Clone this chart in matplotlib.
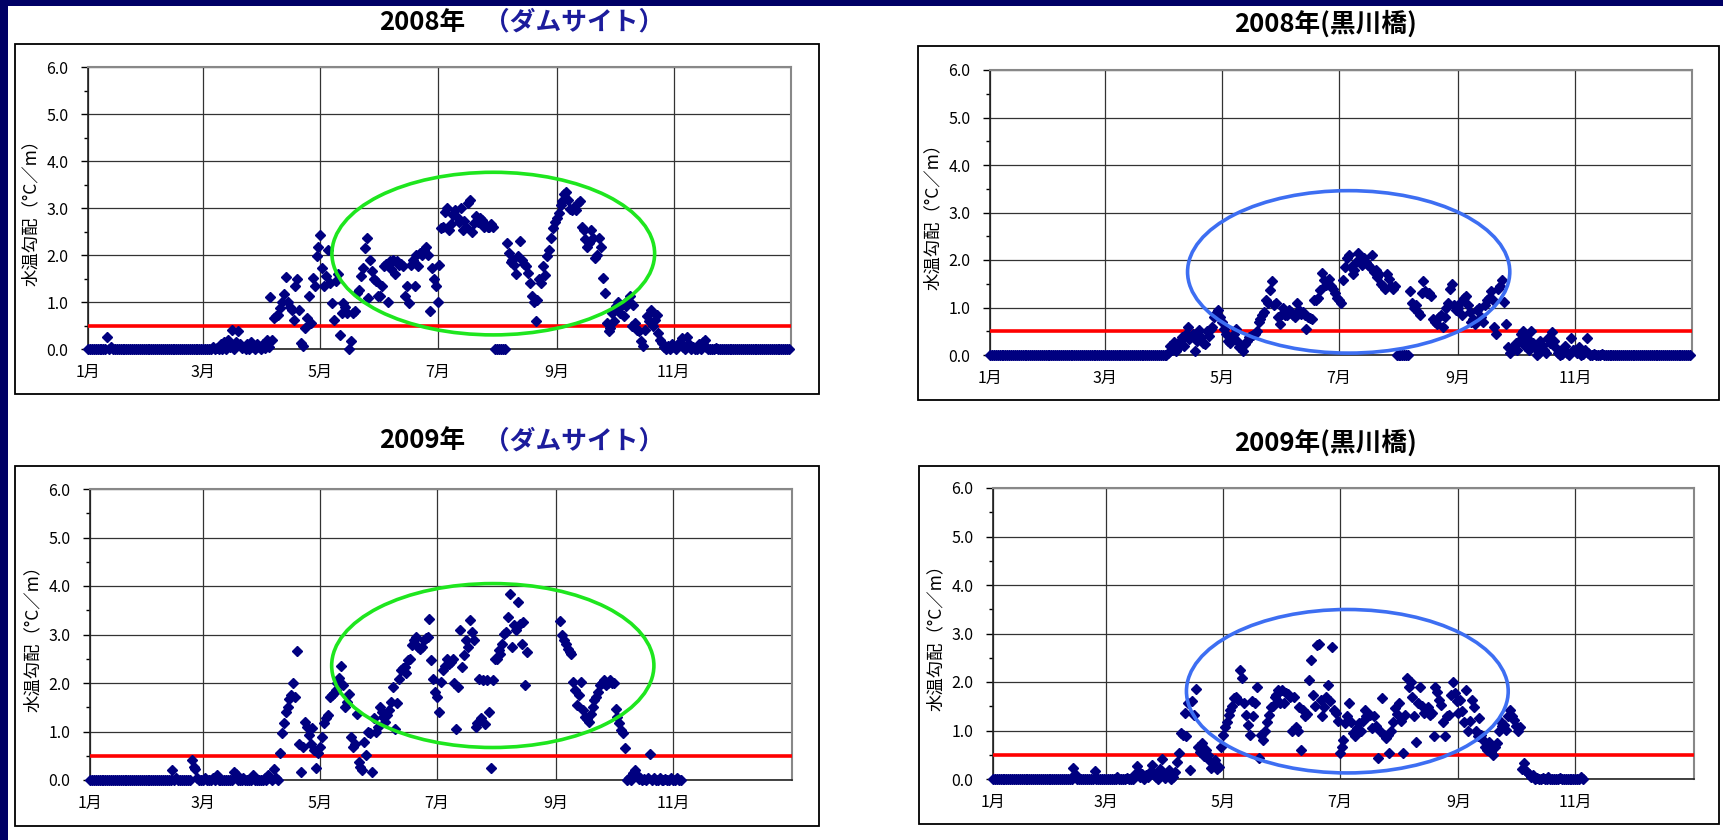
import numpy as np
import matplotlib
matplotlib.use("Agg")
import matplotlib.pyplot as plt
from matplotlib.patches import Ellipse, Rectangle

plt.rcParams['font.family'] = ['Liberation Sans Narrow', 'Noto Sans CJK JP', 'DejaVu Sans']

# ---- data: daily water temperature gradient (°C/m), one value per day ----
month_starts_2008 = [0, 31, 60, 91, 121, 152, 182, 213, 244, 274, 305, 335]
month_starts_2009 = [0, 31, 59, 90, 120, 151, 181, 212, 243, 273, 304, 334]
month_labels = ['1月', '3月', '5月', '7月', '9月', '11月']
y_labels = ['0.0', '1.0', '2.0', '3.0', '4.0', '5.0', '6.0']
threshold = 0.5

# 2008 dam site
dam_2008 = (
    [0, 0, 0, 0, 0, 0, 0, 0, 0, 0, 0.25, 0, 0.05, 0, 0, 0, 0, 0, 0, 0, 0, 0, 0, 0, 0, 0, 0, 0, 0, 0, 0]  # Jan
    + [0, 0, 0, 0, 0, 0, 0, 0, 0, 0, 0, 0, 0, 0, 0, 0, 0, 0, 0, 0, 0, 0, 0, 0, 0, 0, 0, 0, 0]  # Feb
    + [0, 0, 0, 0, 0, 0.05, 0, 0.03, 0, 0.1, 0, 0.15, 0, 0.2, 0.05, 0.41, 0, 0.15, 0.38, 0.1,
       0.02, 0.05, 0, 0.1, 0, 0.15, 0.05, 0, 0.1, 0.05, 0]  # Mar
    + [0.1, 0.02, 0.2, 0.05, 1.1, 0.2, 0.66, 0.7, 0.73, 0.87, 1.0, 1.18, 1.53, 1.0, 0.9, 0.84, 0.62, 1.33, 1.49, 0.84,
       0.13, 0.06, 0.45, 0.66, 1.12, 0.55, 1.52, 1.33, 1.97, 2.18]  # Apr
    + [2.43, 1.72, 1.33, 1.55, 2.11, 1.4, 0.98, 0.62, 1.45, 1.6, 0.3, 0.77, 0.98, 0.9, 0.77, 0.0, 0.16, 0.77, 0.8, 1.19,
       1.25, 1.55, 1.72, 2.15, 2.36, 1.09, 1.9, 1.65, 1.5, 1.45, 1.12]  # May
    + [1.12, 1.33, 1.76, 1.8, 1.0, 1.87, 1.7, 1.9, 1.6, 1.87, 1.79, 1.8, 1.76, 1.12, 1.33, 0.98, 1.79, 1.9, 1.33, 2.0,
       1.76, 2.05, 2.0, 2.11, 2.18, 2.0, 0.8, 1.72, 1.49, 1.33]  # Jun
    + [1.0, 1.79, 2.57, 2.6, 2.92, 2.99, 2.54, 2.65, 2.86, 2.96, 2.8, 2.7, 3.0, 2.54, 2.72, 2.6, 3.11, 3.18, 2.5, 2.68,
       2.82, 2.7, 2.79, 2.75, 2.6, 2.64, 2.6, 2.6, 2.65, 2.6, 0]  # Jul
    + [0, 0, 0, 0, 0, 2.26, 2.04, 1.85, 1.9, 1.79, 1.6, 1.97, 2.29, 1.9, 1.8, 1.76, 1.62, 1.4, 1.12, 1.0,
       0.59, 1.05, 1.48, 1.4, 1.76, 1.58, 1.97, 2.11, 2.36, 2.57, 2.71]  # Aug
    + [2.78, 2.9, 3.07, 3.14, 3.3, 3.35, 3.16, 2.98, 2.96, 3.03, 2.95, 3.1, 3.14, 2.6, 2.54, 2.33, 2.18, 2.25, 2.54, 2.36,
       1.94, 2.0, 2.36, 2.18, 1.51, 1.2, 0.55, 0.38, 0.45, 0.77]  # Sep
    + [0.6, 0.91, 1.0, 0.77, 0.94, 0.7, 0.91, 1.05, 1.12, 0.5, 0.94, 0.55, 0.4, 0.38, 0.16, 0.06, 0.41, 0.7, 0.6, 0.84,
       0.5, 0.62, 0.73, 0.34, 0.2, 0.13, 0.05, 0, 0.06, 0, 0.1]  # Oct
    + [0.05, 0, 0.1, 0.15, 0.23, 0.05, 0, 0.25, 0.1, 0, 0.05, 0, 0, 0.1, 0, 0.15, 0.2, 0.05, 0, 0,
       0, 0, 0.03, 0, 0, 0, 0, 0, 0, 0]  # Nov
    + [0, 0, 0, 0, 0, 0, 0, 0, 0, 0, 0, 0, 0, 0, 0, 0, 0, 0, 0, 0, 0, 0, 0, 0, 0, 0, 0, 0, 0, 0, 0]  # Dec
)

# 2008 Kurokawa bridge
bridge_2008 = (
    [0, 0, 0, 0, 0, 0, 0, 0, 0, 0, 0, 0, 0, 0, 0, 0, 0, 0, 0, 0, 0, 0, 0, 0, 0, 0, 0, 0, 0, 0, 0]  # Jan
    + [0, 0, 0, 0, 0, 0, 0, 0, 0, 0, 0, 0, 0, 0, 0, 0, 0, 0, 0, 0, 0, 0, 0, 0, 0, 0, 0, 0, 0]  # Feb
    + [0, 0, 0, 0, 0, 0, 0, 0, 0, 0, 0, 0, 0, 0, 0, 0, 0, 0, 0, 0, 0, 0, 0, 0, 0, 0, 0, 0, 0, 0, 0]  # Mar
    + [0, 0, 0.05, 0.2, 0.1, 0.27, 0.09, 0.15, 0.3, 0.38, 0.2, 0.45, 0.59, 0.34, 0.4, 0.45, 0.09, 0.3, 0.52, 0.38,
       0.25, 0.23, 0.5, 0.4, 0.55, 0.6, 0.8, 0.88, 0.94, 0.8]  # Apr
    + [0.7, 0.55, 0.45, 0.3, 0.25, 0.38, 0.45, 0.55, 0.3, 0.16, 0.2, 0.09, 0.23, 0.3, 0.38, 0.4, 0.42, 0.45, 0.5, 0.7,
       0.75, 0.84, 0.9, 1.16, 1.1, 1.37, 1.55, 1.05, 1.09, 0.8, 0.65]  # May
    + [0.87, 0.98, 0.85, 0.84, 0.95, 0.9, 0.85, 0.8, 1.09, 0.95, 0.87, 0.9, 0.84, 0.55, 0.8, 0.78, 0.75, 1.15, 1.16, 1.2,
       1.37, 1.72, 1.58, 1.48, 1.5, 1.6, 1.45, 1.4, 1.3, 1.2]  # Jun
    + [1.16, 1.1, 1.58, 1.85, 2.05, 2.11, 1.85, 1.7, 1.8, 1.95, 2.15, 2.0, 1.9, 2.05, 1.95, 1.9, 1.85, 2.1, 1.75, 1.8,
       1.65, 1.7, 1.5, 1.45, 1.4, 1.7, 1.6, 1.45, 1.4, 1.45, 0]  # Jul
    + [0, 0, 0, 0, 0, 0, 1.35, 1.1, 1.0, 1.05, 0.9, 0.85, 1.3, 1.55, 1.35, 1.3, 1.3, 1.25, 0.75, 0.7,
       0.65, 0.8, 0.85, 0.6, 0.8, 1.0, 1.1, 1.4, 1.5, 1.05, 0.95]  # Aug
    + [1.0, 1.1, 0.85, 1.2, 1.25, 1.05, 0.9, 0.7, 0.75, 0.65, 0.95, 1.0, 0.8, 0.7, 1.05, 1.15, 1.2, 1.35, 1.15, 0.6,
       0.45, 1.4, 1.45, 1.58, 1.12, 0.65, 0.17, 0.05, 0.1, 0.2]  # Sep
    + [0.25, 0.1, 0.3, 0.45, 0.5, 0.2, 0.35, 0.1, 0.5, 0.25, 0.15, 0, 0.05, 0.3, 0.2, 0.1, 0.05, 0.35, 0.25, 0.48,
       0.3, 0.15, 0.05, 0, 0.02, 0.1, 0.2, 0.05, 0, 0.35, 0.1]  # Oct
    + [0.1, 0.05, 0.17, 0, 0.02, 0.1, 0.35, 0.05, 0, 0, 0.03, 0, 0, 0, 0.02, 0, 0, 0, 0, 0,
       0, 0, 0, 0, 0, 0, 0, 0, 0, 0]  # Nov
    + [0, 0, 0, 0, 0, 0, 0, 0, 0, 0, 0, 0, 0, 0, 0, 0, 0, 0, 0, 0, 0, 0, 0, 0, 0, 0, 0, 0, 0, 0, 0]  # Dec
)

# 2009 dam site (no record mid-Aug, record ends early Nov)
dam_2009 = (
    [0, 0, 0, 0, 0, 0, 0, 0, 0, 0, 0, 0, 0, 0, 0, 0, 0, 0, 0, 0, 0, 0, 0, 0, 0, 0, 0, 0, 0, 0, 0]  # Jan
    + [0, 0, 0, 0, 0, 0, 0, 0, 0, 0, 0, 0, 0.21, 0, 0.05, 0, 0, 0, 0, 0, 0, 0, 0.41, 0.27, 0.23, 0.05, 0, 0]  # Feb
    + [0, 0.05, 0, 0, 0, 0.05, 0, 0.1, 0, 0, 0, 0, 0, 0, 0, 0, 0.17, 0.12, 0, 0,
       0, 0.05, 0, 0, 0, 0, 0.1, 0, 0, 0, 0]  # Mar
    + [0, 0.05, 0, 0.1, 0.05, 0, 0.22, 0.05, 0, 0.56, 0.96, 1.17, 1.41, 1.5, 1.68, 1.75, 2.0, 1.72, 2.66, 0.75,
       0.17, 0.69, 1.2, 1.1, 0.93, 0.75, 1.08, 0.62, 0.24, 0.55]  # Apr
    + [0.69, 0.89, 1.17, 1.27, 1.34, 1.72, 1.75, 1.8, 1.85, 1.99, 2.1, 2.35, 1.96, 1.51, 1.6, 1.78, 0.89, 0.69, 0.75, 1.36,
       0.38, 0.27, 0.2, 0.79, 0.51, 1.0, 0.96, 0.17, 1.27, 1.0, 1.1]  # May
    + [1.51, 1.41, 1.3, 1.2, 1.35, 1.45, 1.6, 1.92, 1.06, 1.58, 2.09, 2.26, 2.3, 2.33, 2.2, 2.47, 2.5, 2.78, 2.88, 2.95,
       2.75, 2.71, 2.74, 2.88, 2.92, 2.95, 3.31, 2.47, 2.09, 1.82]  # Jun
    + [1.72, 1.41, 2.02, 2.26, 2.35, 2.5, 2.4, 2.44, 2.5, 1.99, 1.06, 1.92, 3.09, 2.33, 2.57, 2.88, 2.74, 3.29, 3.05, 2.88,
       1.1, 1.17, 2.09, 1.27, 2.06, 1.15, 2.06, 1.41, 0.24, 2.06, 2.5]  # Jul
    + [2.5, 2.68, 2.6, 2.81, 3.02, 3.05, 3.36, 3.84, 2.75, 3.19, 3.1, 3.67, 3.22, 2.81, 3.26, 1.96, 2.64,
       None, None, None, None, None, None, None, None, None, None, None, None, None, None]  # Aug
    + [None, None, 3.27, 3.0, 2.88, 2.81, 2.7, 2.64, 2.6, 2.02, 1.85, 1.54, 1.75, 2.02, 1.44, 1.3, 1.25, 1.2, 1.37, 1.51,
       1.65, 1.72, 1.82, 1.96, 2.0, 2.06, 1.95, 1.99, 2.06, 2.0]  # Sep
    + [1.99, 1.47, 1.3, 1.17, 1.03, 0.96, 0.65, 0, 0.05, 0, 0.14, 0.2, 0.1, 0.02, 0.05, 0, 0.03, 0, 0.05, 0.53,
       0, 0.05, 0, 0, 0.05, 0, 0, 0.03, 0, 0, 0.05]  # Oct
    + [0, 0, 0.05, 0, 0]  # Nov
)

# 2009 Kurokawa bridge (record ends early Nov)
bridge_2009 = (
    [0, 0, 0, 0, 0, 0, 0, 0, 0, 0, 0, 0, 0, 0, 0, 0, 0, 0, 0, 0, 0, 0, 0, 0, 0, 0, 0, 0, 0, 0, 0]  # Jan
    + [0, 0, 0, 0, 0, 0, 0, 0, 0, 0, 0, 0.23, 0.1, 0, 0, 0, 0, 0, 0, 0, 0, 0, 0.16, 0, 0, 0, 0, 0]  # Feb
    + [0, 0, 0, 0, 0, 0, 0.05, 0, 0, 0, 0, 0.03, 0, 0, 0, 0.1, 0.27, 0.15, 0.05, 0.1,
       0, 0.08, 0.05, 0.15, 0.29, 0.1, 0.05, 0, 0.2, 0.41, 0.1]  # Mar
    + [0.02, 0.1, 0.19, 0, 0.05, 0.15, 0.36, 0.53, 0.95, 0.91, 1.36, 0.88, 1.56, 0.19, 1.6, 1.32, 1.85, 0.67, 0.55, 0.74,
       0.47, 0.6, 0.5, 0.4, 0.23, 0.33, 0.4, 0.2, 0.25, 0.67]  # Apr
    + [0.91, 1.08, 1.18, 1.32, 1.42, 1.5, 1.66, 1.7, 1.62, 2.25, 2.08, 1.56, 1.32, 1.12, 0.91, 1.6, 1.29, 1.56, 1.9, 0.43,
       0.91, 0.81, 0.98, 1.18, 1.32, 1.49, 1.5, 1.7, 1.73, 1.84, 1.56]  # May
    + [1.84, 1.56, 1.77, 1.75, 1.7, 0.98, 1.7, 1.08, 1.0, 1.49, 0.6, 1.42, 1.29, 1.35, 2.04, 2.45, 1.73, 1.5, 2.76, 2.79,
       1.63, 1.29, 1.49, 1.7, 1.94, 1.6, 2.73, 1.42, 1.36, 1.2]  # Jun
    + [0.53, 0.67, 0.8, 1.15, 1.3, 1.56, 1.18, 0.95, 0.88, 1.05, 1.15, 0.98, 1.2, 1.42, 1.29, 1.3, 1.32, 1.05, 1.29, 1.1,
       0.43, 1.0, 1.66, 0.91, 0.84, 0.9, 0.53, 1.0, 1.18, 1.46, 1.35]  # Jul
    + [1.56, 1.2, 0.53, 1.32, 2.08, 1.9, 2.0, 1.7, 1.29, 0.77, 1.56, 1.9, 1.5, 1.36, 1.42, 1.49, 1.32, 1.36, 0.88, 1.9,
       1.8, 1.63, 1.53, 1.18, 0.88, 1.29, 1.32, 1.73, 2.0, 1.77, 1.6]  # Aug
    + [1.36, 1.63, 1.4, 1.18, 1.84, 0.98, 1.2, 1.63, 1.49, 1.0, 0.88, 1.25, 0.9, 0.81, 0.67, 0.6, 0.77, 0.55, 0.5, 0.67,
       0.74, 1.0, 1.18, 1.1, 1.12, 1.01, 1.3, 1.42, 1.3, 1.22]  # Sep
    + [1.1, 0.98, 1.08, 0.2, 0.33, 0.19, 0.15, 0.1, 0.05, 0.08, 0, 0.02, 0, 0, 0.02, 0, 0, 0.05, 0, 0,
       0, 0, 0, 0.03, 0, 0, 0, 0, 0, 0, 0]  # Oct
    + [0, 0, 0, 0.05, 0]  # Nov
)

# highlight rings: (centre day, centre value, width in days, height in °C/m)
ring_dam_2008 = (211, 2.03, 168, 3.46)
ring_bridge_2008 = (187, 1.75, 168, 3.42)
ring_dam_2009 = (210, 2.36, 168, 3.38)
ring_bridge_2009 = (185, 1.81, 168, 3.37)

# ---- figure ----
W, H = 1724, 840
fig = plt.figure(figsize=(W / 100, H / 100), dpi=100)
navy = '#000066'


def fx(x):
    return x / W


def fy(y):
    return 1 - y / H


def frame(l, t, r, b, **kw):
    fig.patches.append(Rectangle((fx(l), fy(b)), (r - l) / W, (b - t) / H,
                                 transform=fig.transFigure, **kw))


# slide border strips
frame(0, 0, 8, H, color=navy, lw=0)
frame(0, 0, W, 6, color=navy, lw=0)


def panel(box, rect, vals, starts, ring, ring_color):
    frame(*box, fill=False, ec='black', lw=1.3)
    l, t, r, b = rect
    ax = fig.add_axes([fx(l), fy(b), (r - l) / W, (b - t) / H])
    y = np.array(vals, dtype=float)
    days = np.arange(len(y))
    ax.axhline(threshold, color='#ff0000', lw=2.6, zorder=3)
    ax.plot(days, y, ls='none', marker='D', ms=5.2, color='#000080', zorder=4, clip_on=False)
    ax.add_patch(Ellipse(ring[:2], ring[2], ring[3], fill=False, ec=ring_color, lw=2.6, zorder=5))

    ax.set_xlim(0, 366)
    ax.set_ylim(0, 6)
    ax.set_xticks(starts[::2])
    ax.set_xticklabels(month_labels, fontsize=11.5)
    ax.set_yticks(np.arange(0, 7))
    ax.set_yticklabels(y_labels, fontsize=11.5)
    ax.set_yticks(np.arange(0.5, 6, 1), minor=True)
    ax.tick_params(axis='x', length=0, pad=11)
    ax.tick_params(axis='y', which='major', length=5, width=1, pad=9)
    ax.tick_params(axis='y', which='minor', length=3, width=1)
    ax.grid(True, which='major', color='#333333', lw=0.9)
    ax.set_axisbelow(True)
    for side in ('left', 'bottom'):
        ax.spines[side].set_color('#222222')
        ax.spines[side].set_linewidth(1.2)
    for side in ('top', 'right'):
        ax.spines[side].set_color('#888888')
        ax.spines[side].set_linewidth(1.5)
    fig.text(fx(l - 57), fy((t + b) / 2), '水温勾配（°C／m）', rotation=90,
             ha='center', va='center', fontsize=12.5, family=['Noto Sans CJK JP', 'DejaVu Sans'])
    return ax


green = '#1ee61e'
blue = '#3d6ef2'

panel((15, 44, 819, 394), (88, 67, 791, 349), dam_2008, month_starts_2008, ring_dam_2008, green)
panel((918, 46, 1719, 400), (990, 70, 1692, 355), bridge_2008, month_starts_2008, ring_bridge_2008, blue)
panel((15, 466, 819, 826), (90, 489, 792, 780), dam_2009, month_starts_2009, ring_dam_2009, green)
panel((919, 466, 1719, 824), (993, 488, 1694, 779), bridge_2009, month_starts_2009, ring_bridge_2009, blue)

# titles
tfont = dict(fontsize=18.5, fontweight='bold', va='center')
fig.text(fx(465), fy(22), '2008年', ha='right', color='black', **tfont)
fig.text(fx(484), fy(22), '（ダムサイト）', ha='left', color='#1c1c9c', **tfont)
fig.text(fx(1325), fy(24), '2008年(黒川橋)', ha='center', color='black', **tfont)
fig.text(fx(465), fy(441), '2009年', ha='right', color='black', **tfont)
fig.text(fx(484), fy(441), '（ダムサイト）', ha='left', color='#1c1c9c', **tfont)
fig.text(fx(1325), fy(443), '2009年(黒川橋)', ha='center', color='black', **tfont)

fig.savefig('out.png', dpi=100)
